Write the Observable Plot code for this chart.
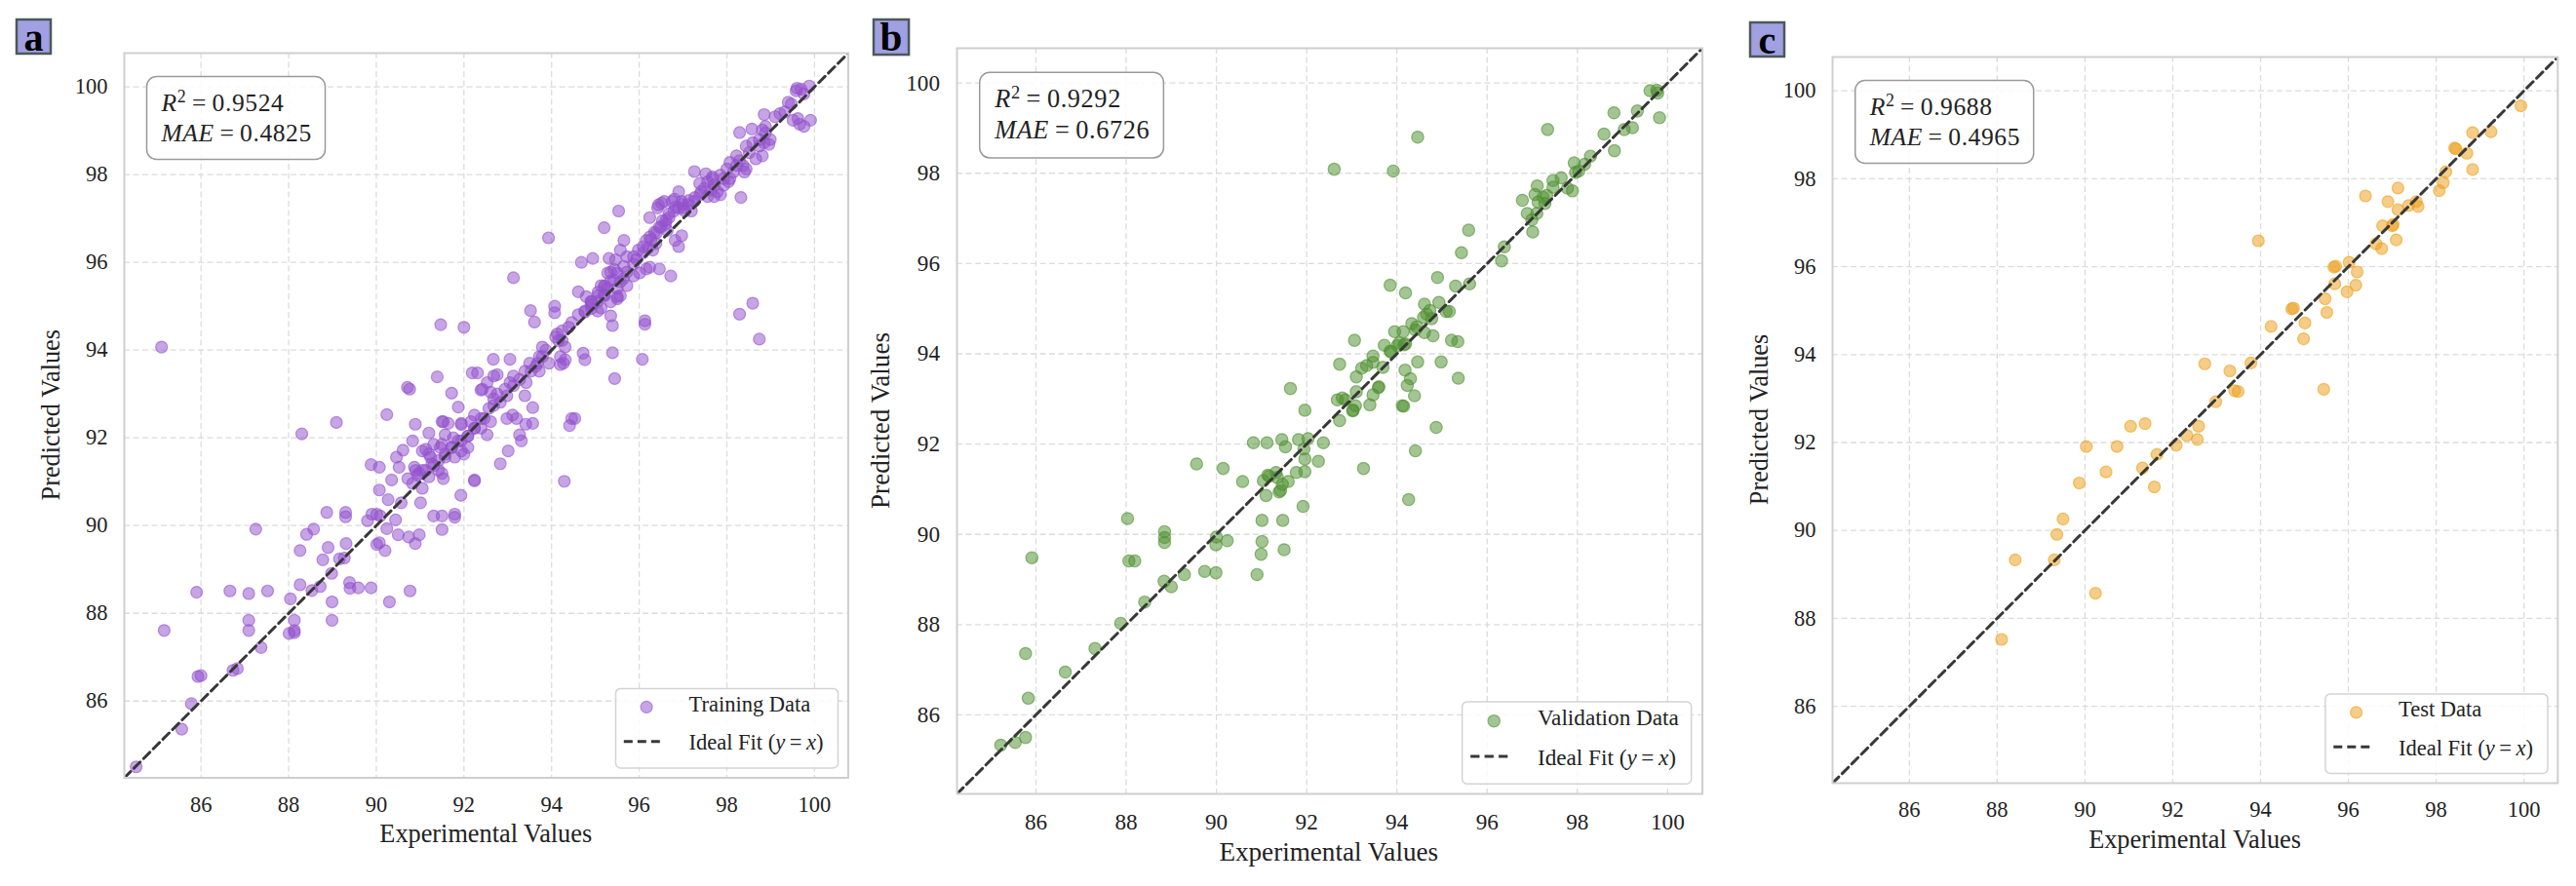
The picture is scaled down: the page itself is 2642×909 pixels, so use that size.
<!DOCTYPE html>
<html>
<head>
<meta charset="utf-8">
<script src="https://cdn.jsdelivr.net/npm/d3@7"></script>
<script src="https://cdn.jsdelivr.net/npm/@observablehq/plot@0.6"></script>
<style>
  html, body { margin: 0; padding: 0; background: #ffffff; }
  #root { position: relative; width: 2642px; height: 909px; overflow: hidden; background: #ffffff; }
  .panel { position: absolute; }
</style>
</head>
<body>
<div id="root"></div>
<script>
// ---------------- data ----------------
const axisDomain = [84.25, 100.77];
const tickValues = [86, 88, 90, 92, 94, 96, 98, 100];

const trainingPoints = [
[84.52,84.50],[85.56,85.36],[85.78,85.94],[85.93,86.56],[86.00,86.58],[85.16,87.61],[85.10,94.07],[85.90,88.48],
[86.66,88.51],[87.09,88.45],[87.52,88.51],[87.25,89.92],[87.09,87.84],[87.09,87.61],[87.37,87.22],[86.73,86.70],
[86.83,86.74],[88.04,88.33],[88.13,87.84],[88.13,87.61],[88.01,87.54],[88.13,87.56],[88.26,88.65],[88.26,89.43],
[88.41,89.80],[88.57,89.92],[88.53,88.52],[88.72,88.61],[88.78,89.22],[88.90,89.50],[88.98,88.91],[88.99,88.26],
[88.99,87.84],[89.16,89.24],[89.27,89.26],[89.31,89.59],[88.87,90.30],[89.30,90.30],[89.30,90.20],[89.39,88.70],
[89.40,88.57],[89.59,88.58],[89.88,88.58],[90.30,88.26],[90.77,88.51],[88.30,92.09],[89.09,92.35],[89.80,90.11],
[89.90,90.26],[90.01,90.26],[90.09,90.22],[90.01,89.57],[90.07,89.61],[90.20,89.43],[90.24,89.93],[90.44,90.13],
[90.50,89.79],[90.74,89.74],[90.98,89.79],[90.89,89.59],[91.31,90.22],[91.50,90.22],[91.79,90.26],[91.79,90.19],
[91.50,89.91],[90.07,90.81],[90.27,90.59],[90.57,90.52],[91.01,90.52],[91.05,90.85],[91.93,90.69],[92.24,91.02],
[89.88,91.39],[90.07,91.33],[90.35,91.04],[90.52,91.33],[90.46,91.56],[90.61,91.72],[90.83,91.93],[90.89,92.31],
[90.24,92.53],[91.20,92.11],[90.72,91.07],[91.53,92.37],[91.64,92.33],[91.94,92.33],[90.71,93.15],
[91.13,91.74],[91.24,91.56],[91.31,91.37],[91.42,91.26],[91.50,91.19],[91.57,91.56],[91.72,91.78],[91.94,91.93],
[92.09,92.04],[92.24,92.22],[92.39,92.44],[91.79,91.56],[92.00,91.63],[91.05,91.26],[90.94,91.15],[91.20,91.11],
[91.50,91.85],[91.53,91.07],
[90.87,91.33],[91.05,91.70],[91.20,91.63],[91.31,91.85],[91.46,91.78],[91.57,92.07],[91.50,92.37],[91.76,92.00],
[91.87,91.93],[91.94,92.30],[92.09,92.04],[92.16,92.37],[92.24,92.52],[92.39,92.22],[92.46,92.44],[92.57,92.67],
[92.68,92.89],[92.61,93.04],[92.76,93.00],[92.83,92.81],[92.94,93.11],[93.05,93.26],[93.13,93.41],[93.27,93.33],
[93.39,93.52],[93.50,93.70],[93.64,93.63],[93.72,93.85],[93.79,94.07],[93.87,94.00],[93.94,93.70],[94.09,94.30],
[94.16,94.22],[94.24,94.44],[94.39,94.52],[94.46,94.63],[94.61,94.81],[94.76,94.89],[94.90,95.04],[95.05,95.11],
[95.20,95.26],[95.27,95.41],[95.42,95.59],[95.64,95.63],[95.72,95.78],[95.87,95.96],[95.94,96.07],[96.09,96.22],
[96.20,96.33],[96.27,96.52],[96.39,96.67],[96.50,96.81],[96.61,96.96],[96.68,97.11],[96.83,97.26],[96.98,97.33],
[97.13,97.41],[97.27,97.48],
[96.16,95.85],[96.24,95.89],[96.46,95.85],[96.72,95.69],[95.35,95.78],[95.57,95.56],[95.20,95.44],[95.50,95.41],
[95.50,95.22],[94.61,95.33],[94.79,95.22],[94.90,95.11],[95.05,94.89],[95.13,94.96],[95.35,94.78],[95.39,94.56],
[94.13,94.37],[94.24,94.22],[94.31,94.07],[94.20,93.85],[94.27,93.70],[93.68,93.70],[93.79,93.85],[93.72,93.52],
[93.53,93.52],[93.42,93.26],[93.13,93.19],[92.98,92.96],[92.68,92.74],[92.68,93.41],[92.53,93.26],[92.42,93.11],
[92.61,92.37],[92.53,92.07],[92.24,92.22],[92.09,91.78],[91.94,91.70],[91.72,91.78],[91.57,91.63],[91.42,91.48],
[91.27,91.41],[91.13,91.26],[90.98,91.19],[90.83,90.96],[90.90,91.26],
[90.76,93.11],[91.39,93.39],[91.47,94.58],[92.00,94.52],[93.13,95.65],[93.93,96.56],[95.53,97.17],[95.20,96.79],
[96.44,97.31],[94.68,96.00],[94.94,96.09],[95.31,96.09],[93.52,94.90],[93.61,94.64],[94.07,95.00],[94.07,94.85],
[96.13,94.67],[96.13,94.59],[96.07,93.79],[95.39,93.94],[95.44,93.35],[94.72,93.93],[94.76,93.78],[94.20,93.67],
[94.31,93.78],[94.46,92.44],[94.53,92.44],[94.41,92.28],[94.29,91.01],[92.83,91.41],[92.24,91.04],[93.01,91.70],
[93.27,92.07],[93.31,91.93],[93.41,92.31],[93.57,92.33],[93.57,92.69],[92.67,93.79],[93.05,93.79],[92.19,93.48],
[92.31,93.48],[92.76,93.44],[91.72,93.02],[91.87,92.70],[92.39,93.09],[92.98,92.44],[93.11,92.52],[93.20,92.44],
[93.39,92.96],
[98.59,95.07],[98.29,94.82],[98.74,94.25],[97.26,98.07],[98.32,97.48],[98.85,99.37],[98.29,98.96],[98.57,99.04],
[99.40,99.65],[99.62,99.28],[99.51,99.24],[99.91,99.24],[99.76,99.10],[99.66,99.15],[99.58,99.91],[99.69,99.95],
[99.76,99.84],[99.88,100.02],[99.60,99.97],[99.47,99.61],
[94.91,94.95],[95.06,95.24],[95.21,95.47],[95.35,95.58],[95.50,95.76],[95.65,95.91],[95.72,96.13],[95.87,96.13],
[95.98,96.28],[96.09,96.36],[96.16,96.50],[96.24,96.58],[96.35,96.69],[96.46,96.80],[96.53,96.95],[96.68,97.02],
[96.79,97.17],[96.90,97.24],[97.01,97.24],[97.12,97.32],[97.26,97.39],[97.38,97.54],[97.49,97.69],[97.56,97.84],
[97.67,97.91],[97.85,97.99],[98.00,98.13],[98.07,98.28],[98.22,98.43],[98.29,98.32],[98.44,98.13],[98.40,98.06],
[98.74,98.65],[98.85,98.73],[98.96,98.69],[98.81,99.02],[98.88,99.10],[99.10,99.32],[99.21,99.39],[99.32,99.43],
[98.07,97.91],[97.93,97.76],[97.85,97.54],[97.56,97.50],[97.41,97.61],[97.63,97.65],[97.71,97.50],[96.97,97.39],
[97.04,97.17],[97.19,97.17],[96.75,97.39],[96.90,97.61],[97.38,97.80],[97.52,98.02],[97.67,97.95],[96.60,96.87],
[96.64,96.73],[96.97,96.61],[96.82,96.50],[96.90,96.36],[96.38,96.43],[96.31,96.28],[96.24,97.02],[96.42,97.24],
[96.57,97.39],[95.65,96.50],[95.57,96.28],[95.46,96.06],[95.43,95.84],[95.28,95.76],[95.13,95.47],[95.06,95.32],
[94.91,95.10],[94.76,94.87],[95.57,95.24],[96.51,97.35],[96.80,97.44],
[98.59,98.73],[98.74,98.80],[98.44,98.65],[98.88,98.95],[98.99,98.80],[98.51,98.50],[98.66,98.36],[98.81,98.43],
[97.71,97.76],[97.78,97.61],[97.93,97.91],[98.04,97.84],[98.15,98.06],[98.22,98.21],[98.37,98.21],
[95.21,95.24],[95.35,95.10],[95.50,95.17],[95.72,95.47],[95.87,95.69],[96.01,95.76]
];

const validationPoints = [
[85.22,85.33],[85.54,85.39],[85.77,85.50],[85.83,86.37],[85.77,87.36],[85.91,89.48],[86.65,86.95],[87.31,87.47],
[87.88,88.03],[88.03,90.35],[88.06,89.41],[88.19,89.41],[88.41,88.50],[88.85,90.06],[88.85,89.93],[88.85,89.82],
[88.84,88.96],[89.00,88.84],[89.29,89.11],[89.56,91.56],[89.74,89.18],[89.99,89.15],[90.00,89.94],[89.99,89.77],
[90.15,91.46],[90.24,89.86],[90.58,91.17],[90.82,92.03],[91.12,92.03],[90.90,89.11],[90.99,89.56],[91.01,89.84],
[91.01,90.31],[91.04,91.19],[91.10,90.86],[91.17,91.29],[91.32,91.37],[91.35,91.26],[91.39,90.94],[91.42,90.97],
[91.46,91.11],[91.59,91.17],[91.47,90.31],[91.50,89.66],[91.45,92.10],[91.53,91.94],[91.82,92.10],[92.03,92.12],
[91.94,91.89],[91.96,91.67],[91.96,91.39],[91.77,91.37],[91.92,90.62],[92.37,92.03],[92.26,91.62],[93.26,91.46],
[94.26,90.77],[94.41,91.85],[91.64,93.23],[91.96,92.75],[92.73,93.77],[92.73,92.52],[92.68,92.98],[92.79,93.02],
[92.86,92.98],[93.03,92.75],[93.08,92.85],[93.10,93.16],[93.10,93.49],[93.06,94.30],[93.22,93.68],[93.33,93.74],
[93.47,93.95],[93.47,93.81],[93.69,93.70],[93.40,92.87],[93.47,93.09],[93.60,93.27],[93.72,94.19],[93.87,94.04],
[93.95,94.49],[94.14,94.49],[94.01,94.18],[94.19,94.22],[94.18,93.64],[94.30,93.45],[94.23,93.30],[94.12,92.85],
[94.15,92.84],[94.39,93.07],[94.46,93.82],[94.87,92.37],[92.61,98.09],[93.92,98.05],[94.46,98.80],[97.34,98.97],
[98.81,99.34],[98.59,98.87],[99.04,98.97],[99.22,99.01],[99.33,99.38],[98.82,98.50],[99.61,99.83],[99.76,99.84],
[99.78,99.78],[99.82,99.23],[98.29,98.38],[98.16,98.20],[97.93,98.23],[97.96,98.02],[98.03,98.05],[97.89,97.61],
[97.78,97.67],[97.64,97.90],[97.46,97.84],[97.46,97.69],[97.11,97.72],[97.06,97.53],[97.24,97.47],[97.32,97.51],
[97.28,97.33],[97.13,97.36],[96.78,97.40],[96.89,97.11],[97.10,97.11],[96.99,96.97],[97.01,96.70],[96.38,96.37],
[96.32,96.06],[95.59,96.74],[95.43,96.24],[94.90,95.69],[95.30,95.50],[95.61,95.55],[93.85,95.52],[94.19,95.35],
[94.61,95.10],[94.93,95.14],[94.73,94.96],[94.77,94.78],[94.59,94.81],[94.66,94.88],[95.09,94.94],[95.16,94.94],
[94.33,94.67],[94.44,94.60],[94.41,94.53],[94.61,94.47],[94.80,94.40],[94.05,94.24],[94.16,94.20],[93.85,94.06],
[95.21,94.30],[95.35,94.27],[94.98,93.82],[95.36,93.46],[93.59,93.25],[93.02,92.74],[91.14,91.31]
];

const testPoints = [
[88.10,87.52],[88.41,89.33],[89.30,89.33],[89.36,89.91],[89.50,90.26],[90.24,88.57],[89.87,91.08],[90.03,91.91],
[90.48,91.33],[90.73,91.91],[91.04,92.37],[91.37,92.43],[91.31,91.42],[91.64,91.73],[91.58,90.99],[92.08,91.94],
[92.32,92.16],[92.56,92.07],[92.59,92.37],[92.73,93.79],[92.98,92.93],[93.30,93.63],[93.41,93.18],[93.49,93.16],
[93.78,93.81],[94.24,94.64],[99.93,99.66],[98.83,99.05],[99.25,99.07],[98.42,98.70],[98.45,98.68],[98.70,98.58],
[98.83,98.21],[98.22,98.16],[98.16,97.91],[98.07,97.73],[96.39,97.61],[97.13,97.79],[96.90,97.48],[97.13,97.30],
[97.37,97.39],[97.55,97.48],[97.59,97.37],[96.78,96.93],[97.00,96.93],[97.02,96.96],[97.09,96.61],[96.63,96.52],
[96.76,96.41],[93.95,96.59],[96.02,96.10],[95.67,95.99],[95.71,96.01],[96.20,95.88],[96.17,95.58],[95.69,95.61],
[95.97,95.43],[95.47,95.27],[95.51,94.96],[94.71,95.04],[94.75,95.06],[95.01,94.72],[94.98,94.36],[95.44,93.21]
];

const panelLetters = ["a", "b", "c"];
const seriesNames = ["Training Data", "Validation Data", "Test Data"];
const r2Values = ["0.9524", "0.9292", "0.9688"];
const maeValues = ["0.4825", "0.6726", "0.4965"];
const axisTitles = {x: "Experimental Values", y: "Predicted Values"};

// ---------------- layout / style ----------------
const SERIF = "'Liberation Serif', 'Times New Roman', serif";
const TEXT = "#222222";
const panels = [
  {points: trainingPoints,   color: "#9352cd", frame: {l: 127,    t: 54, w: 742.5, h: 743.5}, s: 1.0,   box: {x: 17,   y: 20}},
  {points: validationPoints, color: "#4f902f", frame: {l: 980.5,  t: 49, w: 764.5, h: 765},   s: 1.031, box: {x: 896,  y: 20}},
  {points: testPoints,       color: "#eba01a", frame: {l: 1879.2, t: 58, w: 743.8, h: 745},   s: 1.0,   box: {x: 1795, y: 23}}
];

const root = document.getElementById("root");
const ML = 90, MR = 14, MT = 14, MB = 70;

panels.forEach((p, i) => {
  const s = p.s;
  const W = p.frame.w + ML + MR, H = p.frame.h + MT + MB;
  const tickFs = 22.5 * s;
  const chart = Plot.plot({
    width: W, height: H,
    marginLeft: ML, marginRight: MR, marginTop: MT, marginBottom: MB,
    x: {domain: axisDomain, ticks: tickValues, tickSize: 0, tickPadding: 19 * s, label: null, tickFormat: d => String(d)},
    y: {domain: axisDomain, ticks: tickValues, tickSize: 0, tickPadding: 17 * s, label: null, tickFormat: d => String(d)},
    style: {fontFamily: SERIF, fontSize: `${tickFs}px`, color: TEXT, background: "transparent", maxWidth: "none", overflow: "visible"},
    marks: [
      Plot.ruleX(tickValues, {stroke: "#dcdcdc", strokeWidth: 1.3, strokeDasharray: "6,3.5"}),
      Plot.ruleY(tickValues, {stroke: "#dcdcdc", strokeWidth: 1.3, strokeDasharray: "6,3.5"}),
      Plot.dot(p.points, {x: d => d[0], y: d => d[1], r: 6 * s, fill: p.color, fillOpacity: 0.52,
        stroke: p.color, strokeOpacity: 0.6, strokeWidth: 1.2}),
      Plot.line(axisDomain.map(v => [v, v]), {x: d => d[0], y: d => d[1], stroke: "#383838",
        strokeWidth: 3, strokeDasharray: "9,5", clip: true}),
      Plot.frame({stroke: "#cfcfcf", strokeWidth: 2})
    ]
  });
  // make sure every tick label uses the intended size and family
  d3.select(chart).selectAll("text")
    .style("font-size", `${tickFs}px`).style("font-family", SERIF).attr("fill", TEXT);
  const div = document.createElement("div");
  div.className = "panel";
  div.style.left = (p.frame.l - ML) + "px";
  div.style.top = (p.frame.t - MT) + "px";
  div.style.width = W + "px";
  div.style.height = H + "px";
  div.appendChild(chart);
  root.appendChild(div);
});

// ---------------- annotations overlay ----------------
const svg = d3.select(root).append("svg")
  .attr("width", 2642).attr("height", 909)
  .style("position", "absolute").style("left", "0px").style("top", "0px")
  .style("pointer-events", "none")
  .attr("font-family", SERIF).attr("fill", TEXT);

panels.forEach((p, i) => {
  const s = p.s, f = p.frame;
  const g = svg.append("g");

  // panel letter box
  const bs = 35 * s;
  g.append("rect").attr("x", p.box.x).attr("y", p.box.y).attr("width", bs).attr("height", bs)
    .attr("fill", "#a0a0e2").attr("stroke", "#4b5959").attr("stroke-width", 2.5);
  g.append("text").attr("x", p.box.x + bs / 2).attr("y", p.box.y + 31.5 * s)
    .attr("text-anchor", "middle").attr("font-weight", "bold").attr("font-size", 40 * s)
    .attr("fill", "#000").text(panelLetters[i]);

  // axis titles
  g.append("text").attr("x", f.l + f.w / 2).attr("y", f.t + f.h + 66.5 * s)
    .attr("text-anchor", "middle").attr("font-size", 26.3 * s).text(axisTitles.x);
  g.append("text").attr("transform", `translate(${f.l - 66.5 * s},${f.t + f.h / 2}) rotate(-90)`)
    .attr("text-anchor", "middle").attr("font-size", 26.3 * s).text(axisTitles.y);

  // stats box
  const sx = f.l + 23.5 * s, sy = f.t + 24.5 * s;
  g.append("rect").attr("x", sx).attr("y", sy).attr("width", 183 * s).attr("height", 85 * s)
    .attr("rx", 10 * s).attr("fill", "#ffffff").attr("fill-opacity", 0.85)
    .attr("stroke", "#9a9a9a").attr("stroke-width", 1.5);
  const fs = 25.5 * s;
  const t1 = g.append("text").attr("x", sx + 15 * s).attr("y", sy + 35 * s).attr("font-size", fs).attr("letter-spacing", 0.6 * s);
  t1.append("tspan").attr("font-style", "italic").text("R");
  t1.append("tspan").attr("font-size", fs * 0.7).attr("dy", -9 * s).text("2");
  t1.append("tspan").attr("dy", 9 * s).text("\u2009=\u2009" + r2Values[i]);
  const t2 = g.append("text").attr("x", sx + 15 * s).attr("y", sy + 66 * s).attr("font-size", fs).attr("letter-spacing", 0.6 * s);
  t2.append("tspan").attr("font-style", "italic").text("MAE");
  t2.append("tspan").text("\u2009=\u2009" + maeValues[i]);

  // legend
  const lw = 228 * s, lh = 81.6 * s;
  const lx = f.l + f.w - 10 * s - lw, ly = f.t + f.h - 9.5 * s - lh;
  g.append("rect").attr("x", lx).attr("y", ly).attr("width", lw).attr("height", lh)
    .attr("rx", 5 * s).attr("fill", "#ffffff").attr("fill-opacity", 0.85)
    .attr("stroke", "#d3d3d3").attr("stroke-width", 1.5);
  g.append("circle").attr("cx", lx + 31.6 * s).attr("cy", ly + 19 * s).attr("r", 6 * s)
    .attr("fill", p.color).attr("fill-opacity", 0.52).attr("stroke", p.color).attr("stroke-opacity", 0.6).attr("stroke-width", 1.2);
  g.append("line").attr("x1", lx + 8.3 * s).attr("x2", lx + 50 * s).attr("y1", ly + 54.3 * s).attr("y2", ly + 54.3 * s)
    .attr("stroke", "#383838").attr("stroke-width", 3).attr("stroke-dasharray", `${9 * s},${5 * s}`);
  const lfs = 22.5 * s;
  g.append("text").attr("x", lx + 75 * s).attr("y", ly + 23.3 * s).attr("font-size", lfs).text(seriesNames[i]);
  const it = g.append("text").attr("x", lx + 75 * s).attr("y", ly + 62.6 * s).attr("font-size", lfs);
  it.append("tspan").text("Ideal Fit (");
  it.append("tspan").attr("font-style", "italic").text("y");
  it.append("tspan").text("\u2009=\u2009");
  it.append("tspan").attr("font-style", "italic").text("x");
  it.append("tspan").text(")");
});
</script>
</body>
</html>
